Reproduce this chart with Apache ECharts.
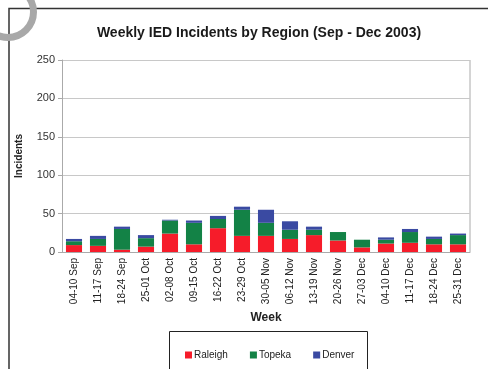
<!DOCTYPE html>
<html><head><meta charset="utf-8">
<script src="https://cdn.jsdelivr.net/npm/echarts@6/dist/echarts.min.js"></script>
<style>html,body{margin:0;padding:0;background:#fff;}#c{width:488px;height:369px;}</style>
</head><body><div id="c"></div>
<script>
const weeks = ['04-10 Sep','11-17 Sep','18-24 Sep','25-01 Oct','02-08 Oct','09-15 Oct','16-22 Oct','23-29 Oct','30-05 Nov','06-12 Nov','13-19 Nov','20-26 Nov','27-03 Dec','04-10 Dec','11-17 Dec','18-24 Dec','25-31 Dec'];
const raleigh = [9, 8, 3, 7, 24, 10, 31, 21, 21, 17, 22, 15, 6, 11, 12, 10, 10];
const topeka  = [5, 9, 27, 11, 17, 28, 12, 34, 17, 12, 7, 11, 10, 5, 14, 7, 12];
const denver  = [3, 4, 3, 4, 1, 3, 4, 4, 17, 11, 4, 0, 0, 3, 4, 3, 2];
const yTicks = [0, 50, 100, 150, 200, 250];

const FONT = 'Liberation Sans';
const chart = echarts.init(document.getElementById('c'), null, {renderer: 'canvas'});
const mk = (name, data, color) => ({
  name, type: 'bar', stack: 'all', data, barCategoryGap: '33%',
  itemStyle: {color}
});
chart.setOption({
  animation: false,
  backgroundColor: '#fff',
  title: {
    text: 'Weekly IED Incidents by Region (Sep - Dec 2003)',
    left: 254, textAlign: 'center', top: 21,
    textStyle: {fontFamily: FONT, fontSize: 14, fontWeight: 'bold', color: '#1a1a1a'}
  },
  grid: {left: 62, right: 18, top: 60, bottom: 117},
  legend: {
    left: 180, top: 345, itemWidth: 7, itemHeight: 7, itemGap: 22,
    icon: 'rect',
    textStyle: {fontFamily: FONT, fontSize: 10, color: '#222', padding: [0,0,0,-3]},
    data: ['Raleigh', 'Topeka', 'Denver']
  },
  xAxis: {
    type: 'category', data: weeks,
    name: 'Week', nameLocation: 'middle', nameGap: 58,
    nameTextStyle: {fontFamily: FONT, fontSize: 12, fontWeight: 'bold', color: '#222'},
    axisLine: {lineStyle: {color: '#aaa'}},
    axisTick: {length: 4, lineStyle: {color: '#aaa'}},
    axisLabel: {rotate: 90, fontFamily: FONT, fontSize: 10, color: '#222', margin: 6}
  },
  yAxis: {
    type: 'value', min: yTicks[0], max: yTicks[yTicks.length - 1], interval: 50,
    name: 'Incidents', nameLocation: 'middle', nameGap: 38, nameRotate: 90,
    nameTextStyle: {fontFamily: FONT, fontSize: 10, fontWeight: 'bold', color: '#222'},
    axisLine: {show: true, lineStyle: {color: '#aaa'}},
    axisTick: {show: true, length: 4, lineStyle: {color: '#aaa'}},
    axisLabel: {fontFamily: FONT, fontSize: 11, color: '#333', margin: 7},
    splitLine: {lineStyle: {color: '#c8c8c8'}}
  },
  graphic: [
    {type: 'line', shape: {x1: 470, y1: 60, x2: 470, y2: 252}, style: {stroke: '#aaa', lineWidth: 1}, silent: true},
    {type: 'polyline', shape: {points: [[9, 400], [9, 8.5], [500, 8.5]]}, style: {stroke: '#333', lineWidth: 1.5, fill: null}, silent: true},
    {type: 'rect', shape: {x: 169.5, y: 331.5, width: 198, height: 60}, style: {stroke: '#222', lineWidth: 1, fill: null}, silent: true},
    {type: 'circle', shape: {cx: 8, cy: 12, r: 25.5}, style: {stroke: '#a8a8a8', lineWidth: 7, fill: null}, z: 100, silent: true}
  ],
  series: [
    mk('Raleigh', raleigh, '#f61c2a'),
    mk('Topeka', topeka, '#138246'),
    mk('Denver', denver, '#3a4aa2')
  ]
});
</script></body></html>
